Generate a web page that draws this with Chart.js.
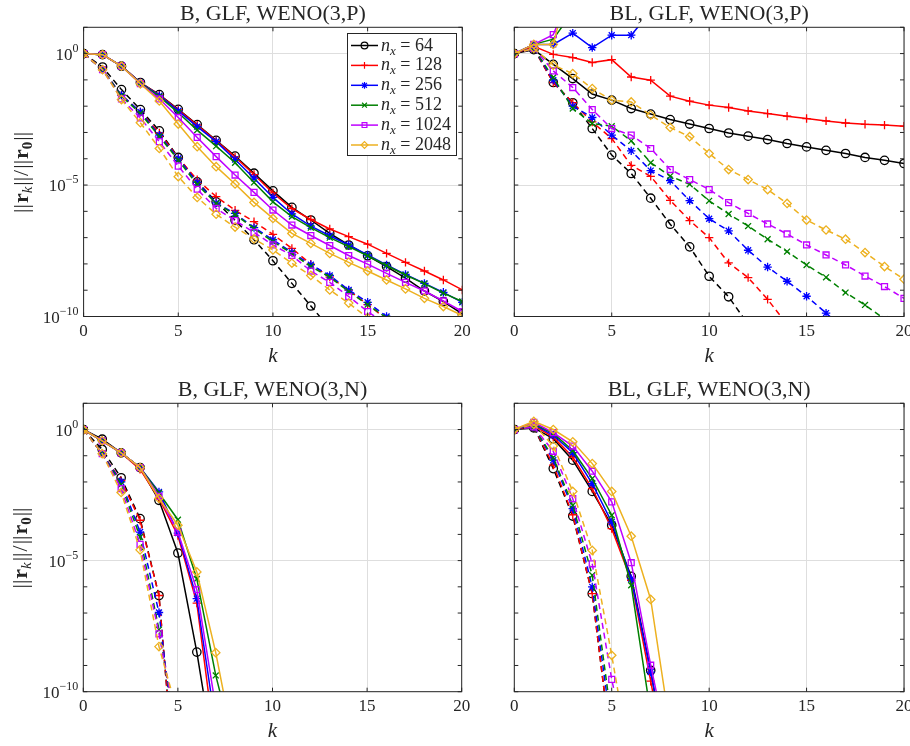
<!DOCTYPE html>
<html>
<head>
<meta charset="utf-8">
<script src="https://cdn.jsdelivr.net/npm/chart.js@4.4.1/dist/chart.umd.min.js"></script>
<style>
  html, body { margin: 0; padding: 0; background: #fff; overflow: hidden; width: 910px; height: 746px; }
  canvas { position: absolute; left: 0; top: 0; }
</style>
</head>
<body>
<canvas id="tl" width="930" height="746"></canvas>
<canvas id="tr" width="930" height="746"></canvas>
<canvas id="bl" width="930" height="746"></canvas>
<canvas id="br" width="930" height="746"></canvas>
<script>
const nx = [64, 128, 256, 512, 1024, 2048];
const colors = ["#000000", "#ff0000", "#0000ff", "#008000", "#bf00ff", "#edb120"];
const markers = ["circle", "cross", "star", "crossRot", "rect", "rectRot"];
const kTicks = [0, 5, 10, 15, 20];
const yTickExp = [-10, -5, 0];

// log10(||r_k|| / ||r_0||), one row per nx, index = k
const bpSolid = [
  [0, -0.04, -0.48, -1.10, -1.56, -2.12, -2.70, -3.30, -3.90, -4.55, -5.22, -5.85, -6.33, -6.84, -7.28, -7.69, -8.10, -8.54, -9.03, -9.43, -9.90],
  [0, -0.04, -0.48, -1.10, -1.58, -2.14, -2.72, -3.32, -3.93, -4.60, -5.30, -5.90, -6.31, -6.67, -6.96, -7.25, -7.60, -7.94, -8.27, -8.61, -8.99],
  [0, -0.04, -0.48, -1.11, -1.60, -2.18, -2.78, -3.35, -4.03, -4.74, -5.47, -6.10, -6.56, -6.93, -7.28, -7.66, -8.04, -8.40, -8.74, -9.08, -9.46],
  [0, -0.04, -0.48, -1.12, -1.64, -2.25, -2.91, -3.52, -4.15, -4.90, -5.64, -6.20, -6.62, -7.00, -7.34, -7.69, -8.06, -8.42, -8.75, -9.11, -9.43],
  [0, -0.04, -0.48, -1.14, -1.72, -2.43, -3.19, -3.92, -4.62, -5.28, -5.95, -6.52, -6.92, -7.30, -7.68, -8.01, -8.36, -8.70, -9.03, -9.41, -9.81],
  [0, -0.04, -0.48, -1.15, -1.80, -2.68, -3.54, -4.30, -4.96, -5.66, -6.27, -6.84, -7.22, -7.60, -7.94, -8.27, -8.61, -8.95, -9.31, -9.62, -9.96]
];
const bpDashed = [
  [0, -0.51, -1.37, -2.13, -2.94, -3.95, -4.88, -5.64, -6.34, -7.08, -7.88, -8.74, -9.60, -10.45],
  [0, -0.61, -1.58, -2.22, -3.02, -3.97, -4.80, -5.44, -5.96, -6.39, -6.88, -7.41, -8.01, -8.50, -9.00, -9.55, -10.10],
  [0, -0.61, -1.58, -2.22, -3.10, -3.99, -4.90, -5.68, -6.08, -6.62, -7.08, -7.56, -8.03, -8.44, -8.99, -9.46, -10.00],
  [0, -0.61, -1.62, -2.28, -3.15, -4.05, -4.98, -5.70, -6.12, -6.65, -7.15, -7.60, -8.10, -8.50, -9.05, -9.55, -10.05],
  [0, -0.61, -1.72, -2.45, -3.35, -4.28, -5.16, -5.89, -6.35, -6.80, -7.28, -7.68, -8.27, -8.70, -9.24, -9.81, -10.30],
  [0, -0.61, -1.75, -2.63, -3.61, -4.68, -5.47, -6.11, -6.60, -7.05, -7.47, -7.97, -8.44, -8.99, -9.49, -10.05]
];

const blpSolid = [
  [0, 0.15, -0.41, -0.95, -1.54, -1.77, -2.09, -2.30, -2.51, -2.68, -2.85, -3.02, -3.14, -3.27, -3.42, -3.55, -3.68, -3.80, -3.95, -4.06, -4.18],
  [0, 0.28, -0.03, -0.15, -0.34, -0.23, -0.89, -1.01, -1.62, -1.81, -1.96, -2.05, -2.18, -2.28, -2.38, -2.47, -2.56, -2.64, -2.69, -2.72, -2.76],
  [0, 0.35, 0.35, 0.78, 0.23, 0.70, 0.70, 1.60],
  [0, 0.35, 0.55, 1.60],
  [0, 0.35, 0.72, 2.50],
  [0, 0.35, 0.35, 3.20]
];
const blpDashed = [
  [0, 0.20, -1.10, -1.87, -2.85, -3.86, -4.56, -5.50, -6.49, -7.35, -8.47, -9.25, -10.30],
  [0, 0.20, -1.10, -1.87, -2.60, -3.23, -4.25, -4.67, -5.58, -6.35, -7.00, -7.96, -8.52, -9.35, -10.30],
  [0, 0.20, -1.01, -2.00, -2.43, -3.10, -3.70, -4.45, -4.83, -5.59, -6.28, -6.74, -7.48, -8.12, -8.66, -9.23, -9.87, -10.50],
  [0, 0.20, -0.91, -2.09, -2.66, -2.76, -3.32, -4.15, -4.66, -4.97, -5.60, -6.10, -6.56, -7.06, -7.53, -8.04, -8.51, -9.09, -9.56, -10.10],
  [0, 0.20, -0.66, -1.29, -2.13, -2.85, -3.10, -3.61, -4.41, -4.79, -5.17, -5.67, -6.08, -6.48, -6.86, -7.28, -7.66, -8.04, -8.46, -8.86, -9.31],
  [0, 0.20, -0.44, -0.76, -1.33, -1.77, -1.84, -2.34, -2.81, -3.16, -3.80, -4.41, -4.79, -5.17, -5.70, -6.33, -6.71, -7.06, -7.57, -8.10, -8.58]
];

const bnSolid = [
  [0, -0.37, -0.89, -1.45, -2.70, -4.71, -8.49, -12.9],
  [0, -0.43, -0.89, -1.52, -2.63, -4.04, -6.62, -12.2],
  [0, -0.43, -0.89, -1.45, -2.38, -3.95, -6.45, -11.3],
  [0, -0.43, -0.89, -1.45, -2.42, -3.44, -5.70, -9.38, -12.2],
  [0, -0.43, -0.89, -1.45, -2.55, -3.91, -6.11, -10.6],
  [0, -0.43, -0.89, -1.45, -2.63, -3.65, -5.43, -8.51, -12.2]
];
const bnDashed = [
  [0, -0.76, -1.84, -3.40, -6.33, -14.9],
  [0, -0.92, -1.95, -3.46, -6.33, -14.9],
  [0, -0.92, -2.00, -3.91, -6.98, -13.0],
  [0, -0.92, -2.10, -4.10, -7.63, -12.0],
  [0, -0.92, -2.25, -4.38, -7.79, -11.6],
  [0, -0.92, -2.40, -4.59, -8.28, -10.85]
];

const blnSolid = [
  [0, 0.06, -0.35, -1.17, -2.36, -3.65, -5.60, -9.19, -13.5],
  [0, 0.15, -0.29, -1.05, -2.25, -3.78, -5.75, -9.60, -13.5],
  [0, 0.20, -0.22, -0.88, -2.06, -3.53, -5.69, -9.25, -13.0],
  [0, 0.22, -0.15, -0.80, -1.87, -3.27, -5.94, -10.85],
  [0, 0.27, -0.12, -0.63, -1.59, -2.76, -5.08, -8.99, -12.5],
  [0, 0.31, 0.00, -0.47, -1.30, -2.36, -4.07, -6.48, -11.4]
];
const blnDashed = [
  [0, 0.10, -1.49, -3.30, -6.26, -12.3],
  [0, 0.10, -1.36, -3.25, -6.26, -12.3],
  [0, 0.10, -1.17, -3.02, -6.00, -11.5],
  [0, 0.10, -1.08, -2.89, -5.56, -11.1],
  [0, 0.10, -0.83, -2.64, -5.12, -9.53, -13.0],
  [0, 0.20, -0.63, -2.36, -4.61, -8.61, -12.9]
];

const SERIF = '"Liberation Serif", "DejaVu Serif", serif';
const AXIS = "#262626";
const GRID = "#dedede";
const W = 930, H = 746, YW = 60, XH = 40, TICK = 4;

const panels = [
  { id: "tl", title: "B, GLF, WENO(3,P)", solid: bpSolid, dashed: bpDashed,
    area: { left: 83.6, top: 27.3, right: 462.3, bottom: 316.5 }, yLabels: true, legend: true },
  { id: "tr", title: "BL, GLF, WENO(3,P)", solid: blpSolid, dashed: blpDashed,
    area: { left: 514.3, top: 27.3, right: 904, bottom: 316.5 }, yLabels: false, legend: false },
  { id: "bl", title: "B, GLF, WENO(3,N)", solid: bnSolid, dashed: bnDashed,
    area: { left: 83.3, top: 403.3, right: 461.7, bottom: 691.7 }, yLabels: true, legend: false },
  { id: "br", title: "BL, GLF, WENO(3,N)", solid: blnSolid, dashed: blnDashed,
    area: { left: 514.3, top: 403.3, right: 904, bottom: 691.7 }, yLabels: false, legend: false }
];

function datasetsFor(p) {
  const out = [];
  nx.forEach((n, i) => {
    [p.solid[i], p.dashed[i]].forEach((row, j) => {
      out.push({
        label: "nx=" + n + (j ? " (dashed)" : ""),
        data: row.map((e, k) => ({ x: k, y: Math.pow(10, e) })),
        borderColor: colors[i],
        borderWidth: 1.5,
        borderDash: j ? [6, 4] : [],
        pointStyle: markers[i],
        pointRadius: 4.2,
        pointBorderWidth: 1.3,
        pointBorderColor: colors[i],
        pointBackgroundColor: "rgba(0,0,0,0)",
        tension: 0,
        order: -(i * 2 + j)
      });
    });
  });
  return out;
}

function drawPieces(ctx, pieces, x, y, align) {
  let total = 0;
  pieces.forEach(pc => { ctx.font = pc.font; pc.w = ctx.measureText(pc.t).width + (pc.gap || 0); total += pc.w; });
  let cx = align === "center" ? x - total / 2 : align === "right" ? x - total : x;
  ctx.textAlign = "left";
  ctx.textBaseline = "alphabetic";
  pieces.forEach(pc => {
    ctx.font = pc.font;
    ctx.fillText(pc.t, cx, y + (pc.dy || 0));
    cx += pc.w;
  });
}

const decor = {
  id: "decor",
  afterDraw(chart, args, opts) {
    const p = opts.panel;
    const { ctx, chartArea: a } = chart;
    const x = chart.scales.x, y = chart.scales.y;
    ctx.save();

    // frame and inward tick marks
    ctx.strokeStyle = AXIS;
    ctx.lineWidth = 1;
    ctx.beginPath();
    for (let e = -10; e <= 1; e++) {
      const py = y.getPixelForValue(Math.pow(10, e));
      ctx.moveTo(a.left, py); ctx.lineTo(a.left + TICK, py);
      ctx.moveTo(a.right, py); ctx.lineTo(a.right - TICK, py);
    }
    kTicks.forEach(k => {
      const px = x.getPixelForValue(k);
      ctx.moveTo(px, a.bottom); ctx.lineTo(px, a.bottom - TICK);
      ctx.moveTo(px, a.top); ctx.lineTo(px, a.top + TICK);
    });
    ctx.stroke();
    ctx.strokeRect(a.left, a.top, a.right - a.left, a.bottom - a.top);

    ctx.fillStyle = AXIS;
    const midX = (a.left + a.right) / 2;

    // panel title
    ctx.font = "22px " + SERIF;
    ctx.textAlign = "center";
    ctx.textBaseline = "alphabetic";
    ctx.fillText(p.title, midX, a.top - 7);

    // x axis title
    ctx.font = "italic 21px " + SERIF;
    ctx.fillText("k", midX, a.bottom + 45);

    if (p.yLabels) {
      yTickExp.forEach(e => {
        const py = y.getPixelForValue(Math.pow(10, e));
        drawPieces(ctx, [
          { t: "10", font: "17px " + SERIF },
          { t: e < 0 ? "\u2212" + (-e) : String(e), font: "12px " + SERIF, dy: -8 }
        ], a.left - 5, py + 6, "right");
      });

      // ||r_k|| / ||r_0||
      const bars = { t: "||", font: "22px " + SERIF, gap: 1 };
      ctx.save();
      ctx.translate(a.left - 63, (a.top + a.bottom) / 2);
      ctx.rotate(-Math.PI / 2);
      drawPieces(ctx, [
        { ...bars },
        { t: "r", font: "bold 22px " + SERIF },
        { t: "k", font: "italic 15px " + SERIF, dy: 4, gap: 1 },
        { ...bars },
        { t: "/", font: "22px " + SERIF, gap: 1 },
        { ...bars },
        { t: "r", font: "bold 22px " + SERIF },
        { t: "0", font: "bold 15px " + SERIF, dy: 4, gap: 1 },
        { ...bars }
      ], 0, 7, "center");
      ctx.restore();
    }

    if (p.legend) {
      const bx = 347.5, by = 33.5, bw = 109, bh = 122;
      ctx.fillStyle = "#fff";
      ctx.fillRect(bx, by, bw, bh);
      ctx.strokeStyle = AXIS;
      ctx.lineWidth = 1;
      ctx.strokeRect(bx, by, bw, bh);
      nx.forEach((n, i) => {
        const ly = 45.5 + i * 19.9;
        ctx.strokeStyle = colors[i];
        ctx.lineWidth = 1.5;
        ctx.setLineDash([]);
        ctx.beginPath();
        ctx.moveTo(351, ly); ctx.lineTo(378, ly);
        ctx.stroke();
        ctx.fillStyle = "rgba(0,0,0,0)";
        ctx.lineWidth = 1.2;
        Chart.helpers.drawPoint(ctx, { pointStyle: markers[i], radius: 3.4, borderWidth: 1.2, rotation: 0 }, 364.5, ly);
        ctx.fillStyle = AXIS;
        drawPieces(ctx, [
          { t: "n", font: "italic 18px " + SERIF },
          { t: "x", font: "italic 13px " + SERIF, dy: 4 },
          { t: " = " + n, font: "18px " + SERIF }
        ], 381, ly + 5, "left");
      });
    }
    ctx.restore();
  }
};

panels.forEach(p => {
  const a = p.area;
  new Chart(document.getElementById(p.id), {
    type: "line",
    data: { datasets: datasetsFor(p) },
    plugins: [decor],
    options: {
      responsive: false,
      animation: false,
      events: [],
      layout: {
        padding: { left: a.left - YW, top: a.top, right: W - a.right, bottom: H - a.bottom - XH }
      },
      plugins: {
        legend: { display: false },
        tooltip: { enabled: false },
        decor: { panel: p }
      },
      scales: {
        x: {
          type: "linear",
          min: 0,
          max: 20,
          afterBuildTicks: s => { s.ticks = kTicks.map(v => ({ value: v })); },
          afterFit: s => { s.height = XH; },
          grid: { color: GRID, lineWidth: 1, drawTicks: false },
          border: { display: false },
          ticks: {
            color: AXIS,
            padding: 5,
            maxRotation: 0,
            autoSkip: false,
            font: { family: SERIF, size: 17 }
          }
        },
        y: {
          type: "logarithmic",
          min: 1e-10,
          max: 10,
          afterBuildTicks: s => { s.ticks = yTickExp.map(e => ({ value: Math.pow(10, e) })); },
          afterFit: s => { s.width = YW; },
          grid: { color: GRID, lineWidth: 1, drawTicks: false },
          border: { display: false },
          ticks: { display: false }
        }
      }
    }
  });
});
</script>
</body>
</html>
